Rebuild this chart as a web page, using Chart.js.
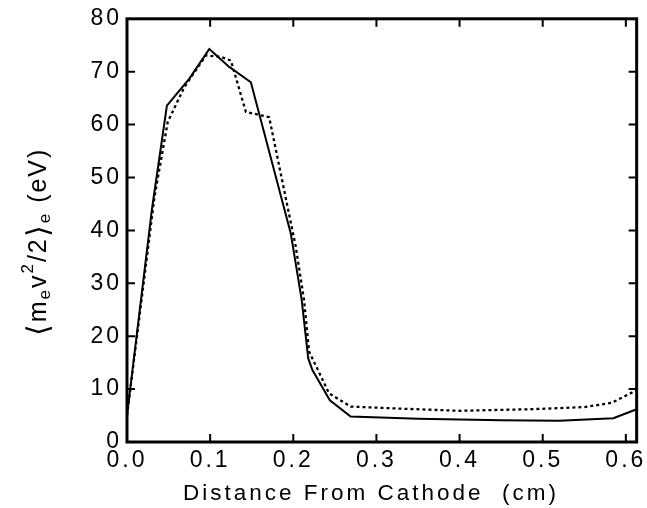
<!DOCTYPE html>
<html>
<head>
<meta charset="utf-8">
<script src="https://cdn.jsdelivr.net/npm/chart.js@4.4.0/dist/chart.umd.min.js"></script>
<style>
    html, body { margin: 0; padding: 0; background: #fff; }
    #wrap { width: 647px; height: 508px; }
</style>
</head>
<body>
<div id="wrap"><canvas id="energyChart"></canvas></div>
<script>
const xTicks = [0, 0.1, 0.2, 0.3, 0.4, 0.5, 0.6];
const yTicks = [0, 10, 20, 30, 40, 50, 60, 70, 80];
const xTitle = 'Distance From Cathode  (cm)';

// solid curve
const solidX = [0, 0.03, 0.048, 0.075, 0.099, 0.123, 0.149, 0.197, 0.21, 0.218, 0.223, 0.244, 0.269, 0.35, 0.45, 0.52, 0.585, 0.613];
const solidY = [5, 44, 63.6, 68.7, 74.3, 70.9, 68.0, 39.4, 27, 15.8, 13.6, 7.9, 4.8, 4.4, 4.1, 4.0, 4.5, 6.2];

// dotted curve
const dashX = [0, 0.033, 0.049, 0.069, 0.095, 0.113, 0.125, 0.143, 0.171, 0.203, 0.213, 0.219, 0.243, 0.269, 0.33, 0.4, 0.487, 0.55, 0.583, 0.613];
const dashY = [5, 46.3, 60.5, 67.1, 73.1, 72.8, 72.1, 62.4, 61.4, 36.9, 26.8, 17.1, 9.2, 6.7, 6.3, 5.9, 6.2, 6.6, 7.4, 9.8];

const FONT = "'Liberation Sans', Arial, Helvetica, sans-serif";

function toPoints(xs, ys) {
    return xs.map((x, i) => ({ x: x, y: ys[i] }));
}

const spacing = {
    id: 'spacing',
    beforeDraw(chart) {
        chart.ctx.letterSpacing = '3px';
    }
};

const frame = {
    id: 'frame',
    afterDatasetsDraw(chart) {
        const { ctx, chartArea: a, scales } = chart;
        ctx.save();
        ctx.strokeStyle = '#000';
        ctx.lineWidth = 2;
        ctx.beginPath();
        xTicks.forEach(v => {
            const px = scales.x.getPixelForValue(v);
            if (px < a.left + 3 || px > a.right - 3) return;
            ctx.moveTo(px, a.bottom); ctx.lineTo(px, a.bottom - 8);
            ctx.moveTo(px, a.top); ctx.lineTo(px, a.top + 8);
        });
        yTicks.forEach(v => {
            const py = scales.y.getPixelForValue(v);
            if (py < a.top + 3 || py > a.bottom - 3) return;
            ctx.moveTo(a.left, py); ctx.lineTo(a.left + 8, py);
            ctx.moveTo(a.right, py); ctx.lineTo(a.right - 8, py);
        });
        ctx.stroke();
        ctx.lineWidth = 3;
        ctx.strokeRect(a.left, a.top, a.right - a.left, a.bottom - a.top);
        ctx.restore();
    },
    afterDraw(chart) {
        const ctx = chart.ctx;

        // x axis title
        ctx.save();
        ctx.letterSpacing = '3px';
        ctx.fillStyle = '#000';
        ctx.font = '22.5px ' + FONT;
        ctx.textAlign = 'center';
        ctx.textBaseline = 'middle';
        ctx.fillText(xTitle, 371, 494);
        ctx.restore();

        // y axis title with sub/superscripts
        const parts = [
            { t: '\u27E8', size: 30, dy: 2 },
            { t: 'm', size: 25, dy: 0 },
            { t: 'e', size: 17, dy: 4 },
            { t: 'v', size: 25, dy: 0 },
            { t: '2', size: 17, dy: -13 },
            { t: '/2', size: 25, dy: 0 },
            { t: '\u27E9', size: 30, dy: 2 },
            { t: 'e', size: 17, dy: 4 },
            { t: ' (eV)', size: 25, dy: 0 }
        ];
        ctx.save();
        ctx.letterSpacing = '2px';
        ctx.fillStyle = '#000';
        ctx.textBaseline = 'alphabetic';
        let total = 0;
        parts.forEach(p => {
            ctx.font = p.size + 'px ' + FONT;
            p.w = ctx.measureText(p.t).width;
            total += p.w;
        });
        ctx.translate(46, 242);
        ctx.rotate(-Math.PI / 2);
        let x = -total / 2;
        parts.forEach(p => {
            ctx.font = p.size + 'px ' + FONT;
            ctx.fillText(p.t, x, p.dy);
            x += p.w;
        });
        ctx.restore();
    }
};

const ctx = document.getElementById('energyChart').getContext('2d');
new Chart(ctx, {
    type: 'scatter',
    data: {
        datasets: [
            {
                label: 'solid',
                data: toPoints(solidX, solidY),
                showLine: true,
                borderColor: '#000',
                borderWidth: 2,
                pointRadius: 0,
                tension: 0
            },
            {
                label: 'dotted',
                data: toPoints(dashX, dashY),
                showLine: true,
                borderColor: '#000',
                borderWidth: 2.3,
                borderDash: [3, 3],
                pointRadius: 0,
                tension: 0
            }
        ]
    },
    options: {
        responsive: true,
        maintainAspectRatio: false,
        animation: false,
        layout: { padding: { top: 18, right: 8, left: 0, bottom: 0 } },
        plugins: {
            legend: { display: false },
            tooltip: { enabled: false }
        },
        scales: {
            x: {
                type: 'linear',
                min: 0,
                max: 0.613,
                afterBuildTicks: scale => { scale.ticks = xTicks.map(v => ({ value: v })); },
                afterFit: scale => { scale.height = 66; },
                grid: { display: false, drawTicks: false },
                border: { display: false },
                ticks: {
                    autoSkip: false,
                    maxRotation: 0,
                    padding: 5,
                    color: '#000',
                    font: { family: FONT, size: 23 },
                    callback: v => v.toFixed(1)
                },
                title: { display: false }
            },
            y: {
                min: 0,
                max: 80,
                afterBuildTicks: scale => { scale.ticks = yTicks.map(v => ({ value: v })); },
                afterFit: scale => { scale.width = 127; },
                grid: { display: false, drawTicks: false },
                border: { display: false },
                ticks: {
                    padding: 5,
                    color: '#000',
                    font: { family: FONT, size: 23 }
                }
            }
        }
    },
    plugins: [spacing, frame]
});
</script>
</body>
</html>
